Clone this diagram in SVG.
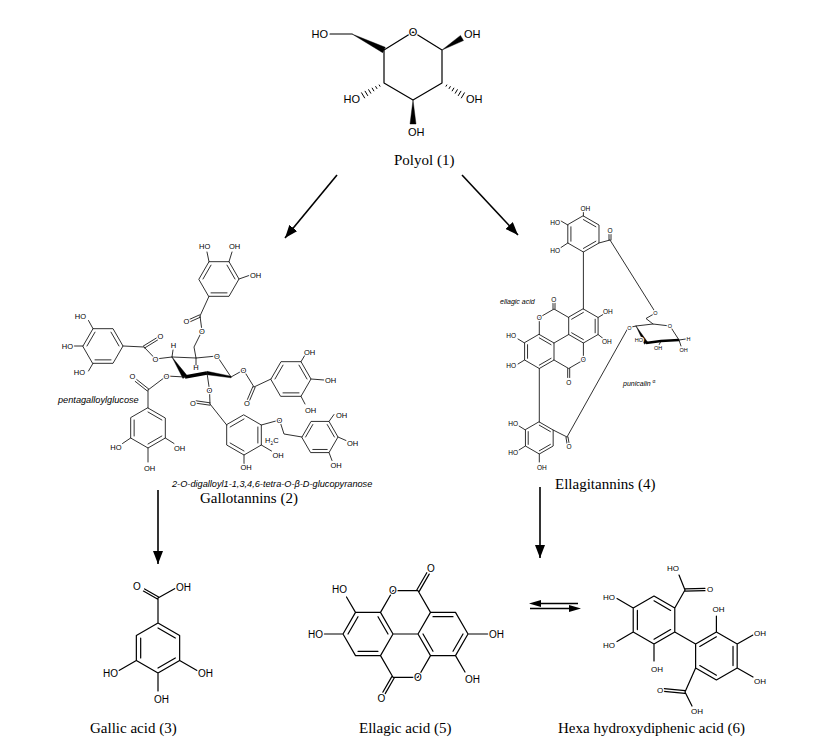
<svg xmlns="http://www.w3.org/2000/svg" width="839" height="755" viewBox="0 0 839 755">
<defs>
<style>
.bd{fill:none;stroke:#000;stroke-width:1.2;stroke-linecap:round;stroke-linejoin:round}
.bt{fill:none;stroke:#1a1a1a;stroke-width:0.9;stroke-linecap:round;stroke-linejoin:round}
.wd{fill:#000;stroke:#000;stroke-width:0.4;stroke-linejoin:round}
.hs{fill:none;stroke:#000;stroke-width:1}
.l{font-family:"Liberation Sans",Arial,sans-serif;fill:#000;stroke:#fff;stroke-width:2.4;stroke-linejoin:round;paint-order:stroke}
.nh{stroke:none}
.m{text-anchor:middle}
.e{text-anchor:end}
.i{font-style:italic}
.cap{font-family:"Liberation Serif","Times New Roman",serif;font-size:15px;fill:#000}
.f11{font-size:11px}
.f10{font-size:10px}
.f8{font-size:8px}
.f75{font-size:7.5px}
.f92{font-size:9.2px}
.f7{font-size:7px}
.f65{font-size:6.5px}
.f55{font-size:5.5px}
.ar{fill:none;stroke:#000;stroke-width:1.6}
</style>
<marker id="ah" markerUnits="userSpaceOnUse" markerWidth="13" markerHeight="10" refX="13" refY="5" orient="auto" viewBox="0 0 13 10"><path d="M0,0 L13,5 L0,10 Z" fill="#000"/></marker>
</defs>
<rect width="839" height="755" fill="#fff"/>

<g id="polyol">
<path class="bd" d="M330,34 L352,34 M384,50 L413,32 L442,50 L442,83 L413,100 L384,83 Z"/>
<polygon class="wd" points="352,34 385.3,47.3 382.7,52.7"/>
<polygon class="wd" points="442,50 463.5,40.6 460.5,35.4"/>
<polygon class="wd" points="413,100 416,124 410,124"/>
<path class="hs" d="M445.84,86.55 L446.96,84.65 M448.91,88.88 L450.49,86.22 M451.98,91.22 L454.02,87.78 M455.05,93.56 L457.55,89.34 M458.12,95.9 L461.08,90.9 M461.19,98.23 L464.61,92.47 M380.16,86.55 L379.04,84.65 M377.09,88.88 L375.51,86.22 M374.02,91.22 L371.98,87.78 M370.95,93.56 L368.45,89.34 M367.88,95.9 L364.92,90.9 M364.81,98.23 L361.39,92.47"/>
<text class="l f11 e" x="328" y="38">HO</text>
<text class="l f11 m" x="413" y="36">O</text>
<text class="l f11" x="464" y="38">OH</text>
<text class="l f11" x="466" y="103">OH</text>
<text class="l f11 e" x="360" y="103">HO</text>
<text class="l f11" x="408" y="136">OH</text>
<text class="cap" x="394" y="165">Polyol (1)</text>
</g>

<g id="gallotannins">
<path class="bt" d="M199,279 L209,261.68 L229,261.68 L239,279 L229,296.32 L209,296.32 Z M203,279 L211,265.14 M227,265.14 L235,279 M227,292.86 L211,292.86 M209,261.68 L207,252 M229,261.68 L232,252 M239,279 L249,275.5 M209,296.32 L200,316 M200.5,317.1 L190.5,321.6 M199.5,314.9 L189.5,319.4 M200,316 L202,331 L194,347 L196,358"/>
<path class="bt" d="M172,357 L196,358 L217,356 L231,377 M172,357 L173,350 M196,358 L196,365"/>
<polygon class="wd" points="172,357 187.1,375.6 182.9,378.4"/>
<path d="M185,377 L207,373" stroke="#000" stroke-width="3.4" fill="none"/>
<polygon class="wd" points="207,371.3 207,374.7 231,377.8 231,376.2"/>
<path class="bt" d="M83,346 L93,328.68 L113,328.68 L123,346 L113,363.32 L93,363.32 Z M87,346 L95,332.14 M111,332.14 L119,346 M111,359.86 L95,359.86 M93,328.68 L88.5,320.5 M83,346 L74,346 M93,363.32 L88.5,371 M123,346 L144,347 M144.6,348 L157.6,340 M143.4,346 L156.4,338 M144,347 L155.5,359 L172,357"/>
<path class="bt" d="M148,408 L165.32,418 L165.32,438 L148,448 L130.68,438 L130.68,418 Z M148,412 L161.86,420 M161.86,436 L148,444 M134.14,436 L134.14,420 M148,408 L148,390 M148.75,389.06 L136.75,379.56 M147.25,390.94 L135.25,381.44 M148,390 L166.5,376 L185,377 M130.68,438 L122.5,443.5 M165.32,438 L174,443.5 M148,448 L148,462"/>
<path class="bt" d="M271,379 L281,361.68 L301,361.68 L311,379 L301,396.32 L281,396.32 Z M275,379 L283,365.14 M299,365.14 L307,379 M299,392.86 L283,392.86 M231,377 L243.5,370 L254,387 M255.1,387.5 L249.6,400.5 M252.9,386.5 L247.4,399.5 M254,387 L271,379 M301,361.68 L305,355 M311,379 L324,380 M301,396.32 L305,404"/>
<path class="bt" d="M244,415 L261.32,425 L261.32,445 L244,455 L226.68,445 L226.68,425 Z M230.14,427 L244,419 M257.86,427 L257.86,443 M244,451 L230.14,443 M207,373 L209.5,390 L210,404 M210,405.2 L196,403.2 M210,402.8 L196,400.8 M210,404 L226.68,425 M261.32,425 L279.5,420 L284,434 L302,437 M261.32,445 L271.5,451 M244,455 L244,463.5"/>
<path class="bt" d="M302,437 L311,421.41 L329,421.41 L338,437 L329,452.59 L311,452.59 Z M305.6,437 L312.8,424.53 M327.2,424.53 L334.4,437 M327.2,449.47 L312.8,449.47 M329,421.41 L334,414.5 M338,437 L346,440.5 M329,452.59 L332,460.5"/>
<text class="l f75" x="199" y="249">HO</text>
<text class="l f75" x="229" y="249">OH</text>
<text class="l f75" x="250" y="278">OH</text>
<text class="l f75 m" x="186.5" y="323.7">O</text>
<text class="l f75 m" x="202" y="333.7">O</text>
<text class="l f75 m" x="217" y="358.7">O</text>
<text class="l f75 m" x="173.5" y="348">H</text>
<text class="l nh f75 m" x="196" y="370">H</text>
<text class="l f75 e" x="86" y="319">HO</text>
<text class="l f75 e" x="73" y="348.7">HO</text>
<text class="l f75 e" x="85" y="375">HO</text>
<text class="l f75 m" x="160.5" y="338.7">O</text>
<text class="l f75 m" x="155.5" y="361.7">O</text>
<text class="l f75 m" x="132.5" y="378.7">O</text>
<text class="l f75 m" x="166.5" y="378.7">O</text>
<text class="l f75 e" x="121.5" y="450">HO</text>
<text class="l f75" x="174" y="451">OH</text>
<text class="l f75" x="144" y="471">OH</text>
<text class="l f75 m" x="243.5" y="372.7">O</text>
<text class="l f75 m" x="247" y="405.7">O</text>
<text class="l f75" x="304" y="355">OH</text>
<text class="l f75" x="325" y="383">OH</text>
<text class="l f75" x="305" y="413">OH</text>
<text class="l f75 m" x="209.5" y="392.7">O</text>
<text class="l f75 m" x="193" y="405.7">O</text>
<text class="l f75 m" x="279.5" y="422.7">O</text>
<text class="l f75" x="265" y="443">H<tspan font-size="5" dy="1.5">2</tspan><tspan dy="-1.5">C</tspan></text>
<text class="l f75" x="272.5" y="458">OH</text>
<text class="l f75" x="240.5" y="470">OH</text>
<text class="l f75" x="336" y="418">OH</text>
<text class="l f75" x="347" y="446">OH</text>
<text class="l f75" x="330.5" y="468">OH</text>
<text class="l nh f92 i" x="58" y="403">pentagalloylglucose</text>
<text class="l nh f92 i" x="172" y="487">2-O-digalloyl1-1,3,4,6-tetra-O-β-D-glucopyranose</text>
<text class="cap" x="200" y="503">Gallotannins (2)</text>
</g>

<g id="ellagitannins">
<path class="bt" d="M583.4,216 L598.99,225 L598.99,243 L583.4,252 L567.81,243 L567.81,225 Z M570.92,241.2 L570.92,226.8 M583.4,219.6 L595.88,226.8 M595.88,241.2 L583.4,248.4 M583.4,216 L583.4,212 M567.81,225 L561,221 M567.81,243 L561,247.5 M598.99,243 L610,240 M609,240 L609,234.5 M611,240 L611,234.5 M610,240 L655.5,312.5 M583.4,252 L583.4,309"/>
<path class="bt" d="M583.4,309 L598.1,317.5 L598.1,334.5 L583.4,343 L568.7,334.5 L568.7,317.5 Z M539.3,334.5 L554,343 L554,360 L539.3,368.5 L524.6,360 L524.6,343 Z M568.7,317.5 L554,309 L539.3,317.5 L539.3,334.5 M583.4,343 L583.4,360 L568.7,368.5 L554,360 M568.7,334.5 L554,343 M595.16,319.2 L595.16,332.8 M583.4,339.6 L571.64,332.8 M571.64,319.2 L583.4,312.4 M527.54,358.3 L527.54,344.7 M539.3,337.9 L551.06,344.7 M551.06,358.3 L539.3,365.1 M553,309 L553,303 M555,309 L555,303 M567.7,368.5 L567.7,377.5 M569.7,368.5 L569.7,377.5 M598.1,317.5 L603,314.5 M598.1,334.5 L602.5,338 M524.6,343 L518,339 M524.6,360 L518,364 M539.3,368.5 L539.3,422"/>
<path class="bt" d="M539.3,422 L553.16,430 L553.16,446 L539.3,454 L525.44,446 L525.44,430 Z M528.21,444.4 L528.21,431.6 M539.3,425.2 L550.39,431.6 M550.39,444.4 L539.3,450.8 M525.44,430 L519,426 M525.44,446 L519,450 M539.3,454 L539.3,462 M553.16,430 L567,437 M566,437.5 L567,443.5 M568,437 L569,443 M567,437 L628,328"/>
<path class="bt" d="M655.5,313 L646,318.5 L653,324 M636,326 L653,324 L670,326 L679,340 M636,326 L629.5,327.5 M679,340 L686,339 M679,340 L681,346 M661,341 L659,345"/>
<path d="M679,340 L661,341 L646,343" stroke="#000" stroke-width="2.6" fill="none"/>
<polygon class="wd" points="636,326 647.5,342 644.5,344.2"/>
<text class="l f65" x="580.5" y="210.5">OH</text>
<text class="l f65 e" x="560" y="225">HO</text>
<text class="l f65 e" x="560" y="253">HO</text>
<text class="l f65 m" x="610" y="233">O</text>
<text class="l f65 m" x="553.8" y="302">O</text>
<text class="l f65 m" x="539.3" y="319.8">O</text>
<text class="l f65 m" x="583.4" y="362.3">O</text>
<text class="l f65 m" x="568.7" y="385">O</text>
<text class="l f65" x="603" y="314">OH</text>
<text class="l f65" x="602" y="344">OH</text>
<text class="l f65 e" x="516" y="338">HO</text>
<text class="l f65 e" x="516" y="368">HO</text>
<text class="l f65 e" x="518" y="425.5">HO</text>
<text class="l f65 e" x="518" y="455">HO</text>
<text class="l f65" x="537" y="470">OH</text>
<text class="l f65 m" x="569" y="449">O</text>
<text class="l f55 m" x="655.5" y="315">O</text>
<text class="l f55 m" x="670" y="328">O</text>
<text class="l f55 m" x="629.5" y="329.5">O</text>
<text class="l f55" x="686.5" y="341">H</text>
<text class="l f55" x="679.5" y="352">OH</text>
<text class="l f55 e" x="643" y="342">HO</text>
<text class="l f55" x="654" y="350">OH</text>
<text class="l nh f7 i" x="500" y="304">ellagic acid</text>
<text class="l nh f7 i" x="623" y="386">punicalin <tspan font-size="5" dy="-3" font-style="normal">α</tspan></text>
<text class="cap" x="555" y="489">Ellagitannins (4)</text>
</g>

<g id="gallic-acid">
<path class="bd" d="M158,623 L179.65,635.5 L179.65,660.5 L158,673 L136.35,660.5 L136.35,635.5 Z M158,628 L175.32,638 M175.32,658 L158,668 M140.68,658 L140.68,638 M158,623 L158,598 M157.4,599.1 L143.4,591.1 M158.6,596.9 L144.6,588.9 M158,598 L175,588.5 M136.35,660.5 L119,670.5 M179.65,660.5 L197,670.5 M158,673 L158,691"/>
<text class="l f10 m" x="137" y="590">O</text>
<text class="l f10" x="176" y="591">OH</text>
<text class="l f10 e" x="118" y="677">HO</text>
<text class="l f10" x="198" y="677">OH</text>
<text class="l f10" x="154" y="703">OH</text>
<text class="cap" x="90" y="733">Gallic acid (3)</text>
</g>

<g id="ellagic-acid">
<path class="bd" d="M343,634 L355.5,612.35 L380.5,612.35 L393,634 L380.5,655.65 L355.5,655.65 Z M418,634 L430.5,612.35 L455.5,612.35 L468,634 L455.5,655.65 L430.5,655.65 Z M393,634 L418,634 M380.5,612.35 L393,590.7 L418,590.7 L430.5,612.35 M380.5,655.65 L393,677.3 L418,677.3 L430.5,655.65 M348,634 L358,616.68 M378,616.68 L388,634 M378,651.32 L358,651.32 M463,634 L453,651.32 M433,651.32 L423,634 M433,616.68 L453,616.68 M419.2,591.4 L429.2,574.1 M416.8,590 L426.8,572.7 M394.2,678 L385.2,693.6 M391.8,676.6 L382.8,692.2 M355.5,612.35 L346.5,597 M343,634 L324,634 M468,634 L488,634 M455.5,655.65 L465,672"/>
<text class="l f10 m" x="393" y="594.3">O</text>
<text class="l f10 m" x="431" y="571.6">O</text>
<text class="l f10 m" x="418" y="680.9">O</text>
<text class="l f10 m" x="381.5" y="701.6">O</text>
<text class="l f10 e" x="347" y="593">HO</text>
<text class="l f10 e" x="323" y="637.6">HO</text>
<text class="l f10" x="489" y="637.6">OH</text>
<text class="l f10" x="465" y="683">OH</text>
<text class="cap" x="359" y="733">Ellagic acid (5)</text>
</g>

<g id="hhdp">
<path class="bd" d="M654,596 L674.78,608 L674.78,632 L654,644 L633.22,632 L633.22,608 Z M716.4,632 L737.18,644 L737.18,668 L716.4,680 L695.62,668 L695.62,644 Z M674.78,632 L695.62,644 M654,600.8 L670.62,610.4 M670.62,629.6 L654,639.2 M637.38,629.6 L637.38,610.4 M699.78,646.4 L716.4,636.8 M733.02,646.4 L733.02,665.6 M716.4,675.2 L699.78,665.6 M674.78,608 L685,590 M685,588.8 L705,588.3 M685,591.2 L705,590.7 M685,590 L679,575 M633.22,608 L617,598.5 M633.22,632 L617,641.5 M654,644 L654,661 M716.4,632 L716.4,616 M737.18,644 L753,635 M737.18,668 L753,677 M695.62,668 L685,692 M685.1,690.7 L664.1,688.7 M684.9,693.3 L663.9,691.3 M685,692 L692,706"/>
<text class="l f8 m" x="710" y="592">O</text>
<text class="l f8 e" x="679" y="571">HO</text>
<text class="l f8 e" x="615" y="600">HO</text>
<text class="l f8 e" x="615" y="648">HO</text>
<text class="l f8" x="651" y="672">OH</text>
<text class="l f8" x="712.5" y="612">OH</text>
<text class="l f8" x="754" y="636">OH</text>
<text class="l f8" x="754" y="684">OH</text>
<text class="l f8 m" x="660" y="693">O</text>
<text class="l f8" x="691" y="714">OH</text>
<text class="cap" x="558" y="733">Hexa hydroxydiphenic acid (6)</text>
</g>

<g id="connectors">
<line class="ar" x1="337" y1="175" x2="285" y2="238" marker-end="url(#ah)"/>
<line class="ar" x1="462" y1="175" x2="518" y2="235" marker-end="url(#ah)"/>
<line class="ar" x1="158" y1="490" x2="158" y2="564" marker-end="url(#ah)"/>
<line class="ar" x1="540" y1="487" x2="540" y2="558" marker-end="url(#ah)"/>
<line class="ar" x1="538" y1="603.5" x2="578" y2="603.5"/>
<polygon points="529,603.5 541,600 541,607" fill="#000"/>
<line class="ar" x1="530" y1="608.5" x2="571" y2="608.5"/>
<polygon points="581,608.5 569,605 569,612" fill="#000"/>
</g>
</svg>
